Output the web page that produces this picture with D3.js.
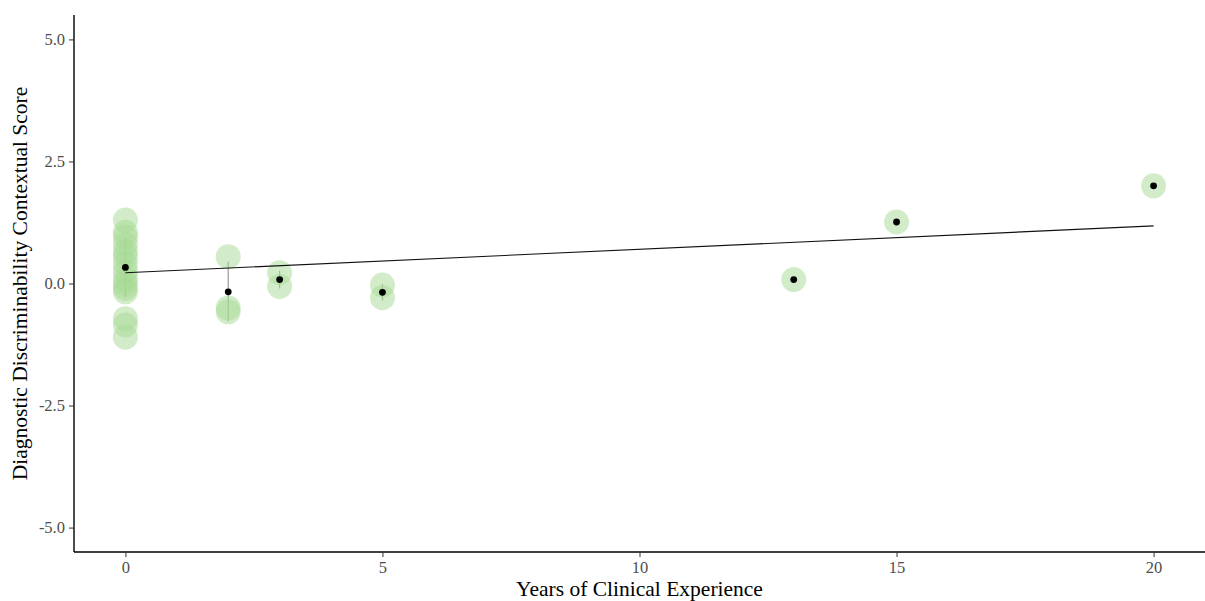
<!DOCTYPE html>
<html>
<head>
<meta charset="utf-8">
<script src="https://cdn.jsdelivr.net/npm/d3@7"></script>
<style>
    body { margin: 0; background: #fff; }
    text { font-family: "Liberation Serif", "Times New Roman", serif; }
</style>
</head>
<body>
<svg id="chart" width="1205" height="601"></svg>
<script>

// Individual scores (years, score)
const pointYears = [0, 0, 0, 0, 0, 0, 0, 0, 0, 0, 0, 0, 0, 0, 0,
                    2, 2, 2, 3, 3, 5, 5, 13, 15, 20];
const pointScores = [1.3, 1.05, 0.95, 0.8, 0.65, 0.55, 0.4, 0.25, 0.1, 0, -0.1, -0.17, -0.72, -0.85, -1.1,
                     0.55, -0.5, -0.58, 0.22, -0.06, -0.03, -0.29, 0.08, 1.26, 2.0];

// Group means with error bars
const meanYears = [0, 2, 3, 5, 13, 15, 20];
const meanScores = [0.33, -0.17, 0.08, -0.18, 0.08, 1.26, 2.0];
const barLow = [-0.28, -0.78, -0.1, -0.35, 0.08, 1.26, 2.0];
const barHigh = [0.94, 0.45, 0.26, -0.01, 0.08, 1.26, 2.0];

// Linear fit endpoints
const fitYears = [0, 20];
const fitScores = [0.22, 1.18];

const xTicks = [0, 5, 10, 15, 20];
const yTicks = [-5, -2.5, 0, 2.5, 5];

const width = 1205, height = 601;
const margin = {top: 15, right: 0, bottom: 49, left: 74};

const svg = d3.select("#chart");

const x = d3.scaleLinear()
    .domain([-1, 21])
    .range([margin.left, width - margin.right]);
const y = d3.scaleLinear()
    .domain([-5.5, 5.5])
    .range([height - margin.bottom, margin.top]);

// Error bars
svg.append("g")
    .selectAll("line")
    .data(meanYears)
    .enter()
    .append("line")
    .attr("x1", (d) => x(d))
    .attr("x2", (d) => x(d))
    .attr("y1", (d, i) => y(barLow[i]))
    .attr("y2", (d, i) => y(barHigh[i]))
    .attr("stroke", "#9a9a9a")
    .attr("stroke-width", 1.2);

// Raw points
svg.append("g")
    .selectAll("circle")
    .data(pointYears)
    .enter()
    .append("circle")
    .attr("cx", (d) => x(d))
    .attr("cy", (d, i) => y(pointScores[i]))
    .attr("r", 12.5)
    .attr("fill", "rgb(165,218,148)")
    .attr("fill-opacity", 0.5);

// Fit line
const line = d3.line()
    .x((d) => x(d))
    .y((d, i) => y(fitScores[i]));
svg.append("path")
    .datum(fitYears)
    .attr("d", line)
    .attr("fill", "none")
    .attr("stroke", "#111")
    .attr("stroke-width", 1.1);

// Mean points
svg.append("g")
    .selectAll("circle")
    .data(meanYears)
    .enter()
    .append("circle")
    .attr("cx", (d) => x(d))
    .attr("cy", (d, i) => y(meanScores[i]))
    .attr("r", 3.4)
    .attr("fill", "#000");

// Axes
const xAxis = svg.append("g")
    .attr("transform", `translate(0,${height - margin.bottom})`)
    .call(d3.axisBottom(x).tickValues(xTicks).tickSize(5).tickPadding(4).tickFormat((d) => String(d)));
const yAxis = svg.append("g")
    .attr("transform", `translate(${margin.left},0)`)
    .call(d3.axisLeft(y).tickValues(yTicks).tickSize(5).tickPadding(4).tickFormat((d) => d.toFixed(1)));

[xAxis, yAxis].forEach((a) => {
    a.attr("font-size", 16.5).attr("font-family", "'Liberation Serif', serif");
    a.select(".domain").attr("stroke", "#000").attr("stroke-width", 1.4);
    a.selectAll(".tick line").attr("stroke", "#333").attr("stroke-width", 1);
    a.selectAll(".tick text").attr("fill", "#4d4d4d");
});
xAxis.select(".domain").attr("d", `M${margin.left},0H${width}`);
yAxis.select(".domain").attr("d", `M0,${margin.top}V${height - margin.bottom}`);

// Axis titles
svg.append("text")
    .attr("x", (margin.left + width) / 2)
    .attr("y", 596)
    .attr("text-anchor", "middle")
    .style("font-size", "21.5px")
    .text("Years of Clinical Experience");
svg.append("text")
    .attr("transform", `translate(27,${(margin.top + height - margin.bottom) / 2}) rotate(-90)`)
    .attr("text-anchor", "middle")
    .style("font-size", "21.5px")
    .text("Diagnostic Discriminability Contextual Score");

</script>
</body>
</html>
